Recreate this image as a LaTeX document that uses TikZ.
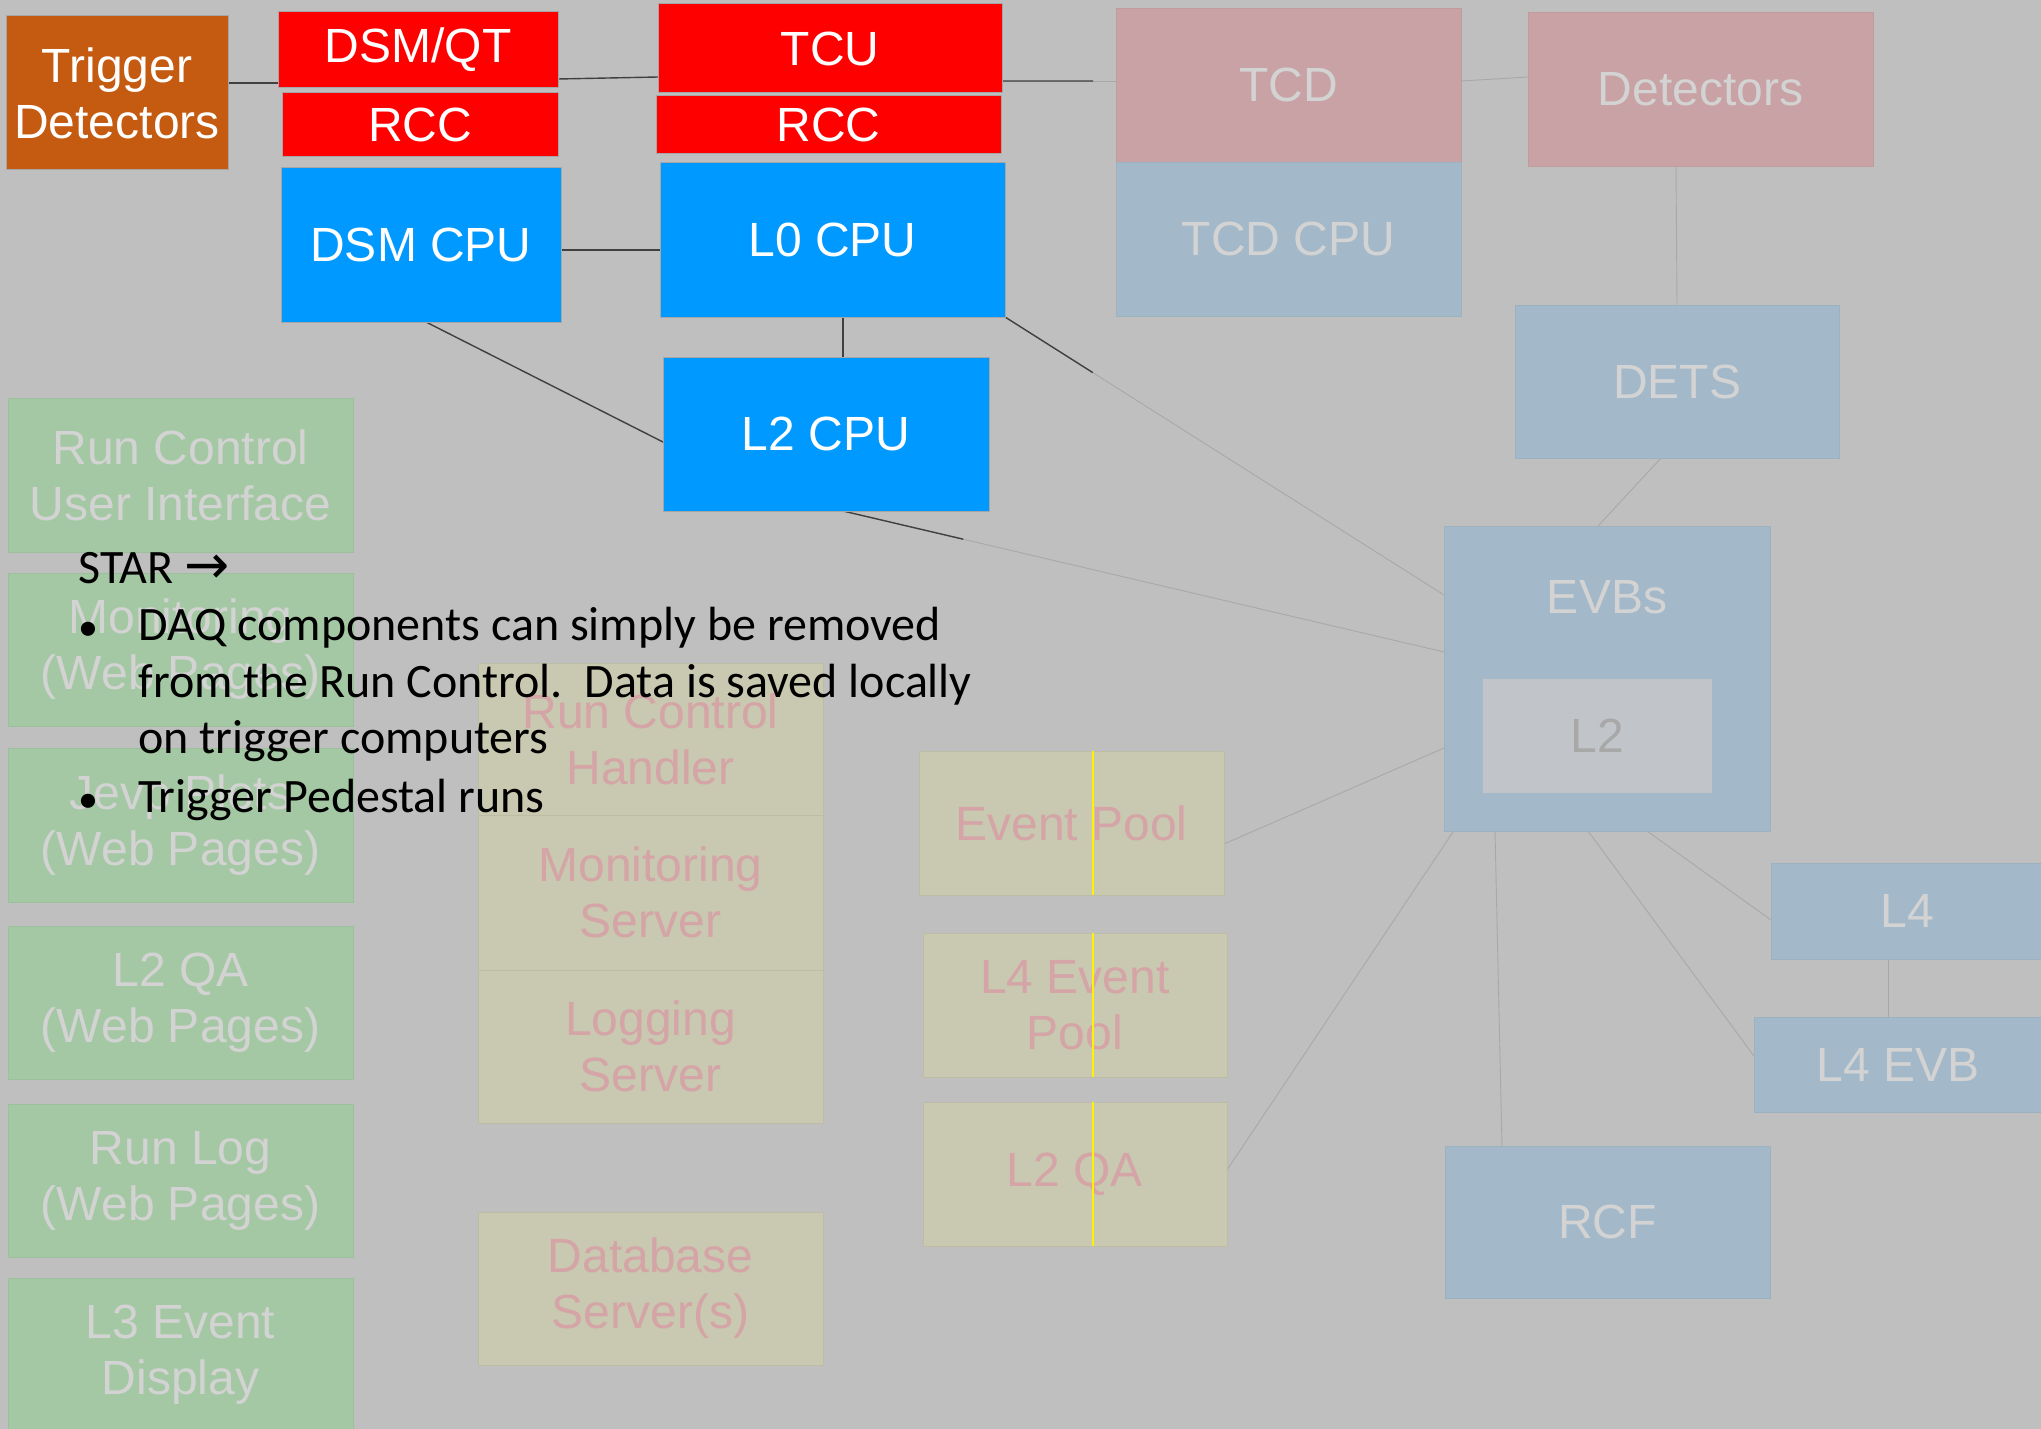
\documentclass[tikz,border=0pt]{standalone}
\usepackage{fontspec}
\setmainfont{Liberation Sans}
\newfontfamily\bodyfont{Carlito}
\newfontfamily\symfont{DejaVu Sans}
\usetikzlibrary{calc}

\definecolor{bgc}{HTML}{BFBFBF}
\definecolor{trigorange}{HTML}{C55A11}
\definecolor{hotred}{HTML}{FF0000}
\definecolor{cpublue}{HTML}{0099FF}
\definecolor{dimpink}{HTML}{C8A2A4}
\definecolor{dimblue}{HTML}{A3B9C9}
\definecolor{dimgreen}{HTML}{A3C8A3}
\definecolor{dimkhaki}{HTML}{C9C8B0}
\definecolor{dimtext}{HTML}{D3D3D3}
\definecolor{pinktext}{HTML}{D4A4A6}
\definecolor{innerbox}{HTML}{C1C5C9}
\definecolor{innertext}{HTML}{A8A8A8}
\definecolor{darkwire}{HTML}{404040}
\definecolor{lightwire}{HTML}{A8A8A8}

\pgfdeclarelayer{back}
\pgfdeclarelayer{wires}
\pgfsetlayers{back,wires,main}

\begin{document}
\begin{tikzpicture}[x=0.5pt,y=-0.5pt,
  box/.style={inner sep=0pt, outer sep=0pt, align=center,
              font=\fontsize{24}{28}\selectfont},
  sz/.style 2 args={minimum width=#1*0.5pt, minimum height=#2*0.5pt},
  live/.style={box, text=white, draw=gray!70, line width=0.5pt},
  dim/.style={box, text=dimtext, draw=#1!96!black, line width=0.4pt, fill=#1},
  dimk/.style={box, text=pinktext, draw=dimkhaki!94!black, line width=0.4pt, fill=dimkhaki},
  darkline/.style={draw=darkwire, line width=0.7pt},
  lightline/.style={draw=lightwire, line width=0.45pt},
  markline/.style={draw=yellow, line width=0.6pt},
  bodytext/.style={anchor=base west, inner sep=0pt, text=black,
                   font=\bodyfont\fontsize{24}{29}\selectfont},
  bullet/.style={anchor=base west, inner sep=0pt, text=black,
                 font=\bodyfont\fontsize{20}{29}\selectfont}
]
% canvas
\begin{pgfonlayer}{back}
  \fill[bgc] (0,0) rectangle (2041,1429);
\end{pgfonlayer}
\useasboundingbox (0,0) rectangle (2041,1429);

% ---- active trigger chain ----
\node[live, fill=trigorange, sz={222}{154}] (trig) at (117,93) {Trigger\\Detectors};
\node[live, fill=hotred, sz={280}{76}] (dsmqt) at (418,50) {DSM/QT};
\node[live, fill=hotred, sz={276}{64}] (rccL) at (420,125) {RCC};
\node[live, fill=hotred, sz={344}{89}] (tcu) at (830,48.5) {TCU};
\node[live, fill=hotred, sz={345}{58}] (rccR) at (828.5,125) {RCC};
\node[live, fill=cpublue, sz={280}{154}] (dsmcpu) at (421,245) {DSM CPU};
\node[live, fill=cpublue, sz={345}{154}] (l0cpu) at (832.5,240) {L0 CPU};
\node[live, fill=cpublue, sz={326}{154}] (l2cpu) at (826,434) {L2 CPU};

% ---- greyed-out detector side ----
\node[dim=dimpink, sz={345}{154}] (tcd) at (1288.5,85) {TCD};
\node[dim=dimblue, sz={345}{154}] (tcdcpu) at (1288.5,239) {TCD CPU};
\node[dim=dimpink, sz={345}{154}] (detectors) at (1700.5,89) {Detectors};
\node[dim=dimblue, sz={324}{153}] (dets) at (1677,381.5) {DETS};
\node[dim=dimblue, sz={326}{305}] (evbs) at (1607,678.5) {};
\node[box, text=dimtext] (evbslabel) at (1607,597) {EVBs};
\node[box, fill=innerbox, text=innertext, sz={229}{114}] (l2in) at (1597.5,736) {L2};
\node[dim=dimblue, sz={272}{96}] (l4) at (1907,911) {L4};
\node[dim=dimblue, sz={288}{95}] (l4evb) at (1898,1064.5) {L4 EVB};
\node[dim=dimblue, sz={325}{152}] (rcf) at (1607.5,1222) {RCF};

% ---- web pages / user side ----
\node[dim=dimgreen, sz={345}{154}] (rcui) at (180.5,475) {Run Control\\User Interface};
\node[dim=dimgreen, sz={345}{153}] (monweb) at (180.5,649.5) {Monitoring\\(Web Pages)};
\node[dim=dimgreen, sz={345}{154}] (jevp) at (180.5,825) {Jevp Plots\\(Web Pages)};
\node[dim=dimgreen, sz={345}{153}] (l2qaweb) at (180.5,1002.5) {L2 QA\\(Web Pages)};
\node[dim=dimgreen, sz={345}{153}] (runlog) at (180.5,1180.5) {Run Log\\(Web Pages)};
\node[dim=dimgreen, sz={345}{154}] (l3ed) at (180.5,1355) {L3 Event\\Display};

% ---- servers ----
\node[dimk, sz={345}{152}] (rch) at (650.5,739) {Run Control\\Handler};
\node[dimk, sz={345}{155}] (monsrv) at (650.5,892.5) {Monitoring\\Server};
\node[dimk, sz={345}{153}] (logsrv) at (650.5,1046.5) {Logging\\Server};
\node[dimk, sz={345}{153}] (dbsrv) at (650.5,1288.5) {Database\\Server(s)};

% ---- event pools ----
\node[dimk, sz={305}{144}] (evpool) at (1071.5,823) {Event Pool};
\node[dimk, sz={304}{144}] (l4evpool) at (1075,1005) {L4 Event\\Pool};
\node[dimk, sz={304}{144}] (l2qa) at (1075,1174) {L2 QA};
\draw[markline] (evpool.north -| 1093,0) -- (evpool.south -| 1093,0);
\draw[markline] (l4evpool.north -| 1093,0) -- (l4evpool.south -| 1093,0);
\draw[markline] (l2qa.north -| 1093,0) -- (l2qa.south -| 1093,0);

% ---- connectors ----
\begin{pgfonlayer}{wires}
  \draw[darkline] ([yshift=5pt]trig.east) -- ([yshift=-16.5pt]dsmqt.west);
  \draw[darkline] ([yshift=-14.5pt]dsmqt.east) -- ([yshift=-14.25pt]tcu.west);
  \coordinate (tcuout) at ([yshift=-16.25pt]tcu.east);
  \coordinate (tcdin) at ([yshift=2pt]tcd.west);
  \draw[lightline] (tcuout) -- (tcdin);
  \draw[darkline] (tcuout) -- ($(tcuout)!0.8!(tcdin)$);
  \draw[lightline] ([yshift=2pt]tcd.east) -- ([yshift=6pt]detectors.west);
  \draw[darkline] ([yshift=-2.5pt]dsmcpu.east) -- ([yshift=-5pt]l0cpu.west);
  \draw[darkline] ([xshift=5.25pt]l0cpu.south) -- ([xshift=8.5pt]l2cpu.north);
  \draw[darkline] ([xshift=2.5pt]dsmcpu.south) -- ([yshift=-4pt]l2cpu.west);
  \coordinate (evbsA) at ([yshift=-34.5pt]evbs.north west);
  \draw[lightline] (l0cpu.south east) -- (evbsA);
  \draw[darkline] (l0cpu.south east) -- ($(l0cpu.south east)!0.2!(evbsA)$);
  \coordinate (l2out) at ([xshift=8.5pt]l2cpu.south);
  \coordinate (evbsB) at ([yshift=13.25pt]evbs.west);
  \draw[lightline] (l2out) -- (evbsB);
  \draw[darkline] (l2out) -- ($(l2out)!0.2!(evbsB)$);
  \draw[lightline] ([xshift=-12.25pt]detectors.south) -- (dets.north);
  \draw[lightline] ([xshift=-8pt]dets.south) -- ([xshift=-4.5pt]evbs.north);
  \draw[lightline] ([yshift=-34.75pt]evbs.west) -- ([yshift=-10.5pt]evpool.east);
  \draw[lightline] ([yshift=3pt]l2in.south west) -- ([yshift=2pt]l2qa.east);
  \draw[lightline] ([xshift=-56pt]evbs.south) -- ([xshift=-52.75pt]rcf.north);
  \draw[lightline] ([xshift=-9.5pt]evbs.south) -- ([yshift=4.25pt]l4evb.west);
  \draw[lightline] ([xshift=20pt]evbs.south) -- ([yshift=-4.5pt]l4.west);
  \draw[lightline] ([xshift=-9.5pt]l4.south) -- ([xshift=-5pt]l4evb.north);
\end{pgfonlayer}

% ---- notes ----
\node[bodytext] (star) at (78,583) {STAR {\symfont\fontsize{27}{29}\selectfont →}};
\node[bullet] (b1) at (78,640) {•};
\node[bodytext] (t1) at (138,640) {DAQ components can simply be removed};
\node[bodytext] (t2) at (138,697) {from the Run Control.\ \ Data is saved locally};
\node[bodytext] (t3) at (138,753) {on trigger computers};
\node[bullet] (b2) at (78,812) {•};
\node[bodytext] (t4) at (138,812) {Trigger Pedestal runs};
\end{tikzpicture}
\end{document}
